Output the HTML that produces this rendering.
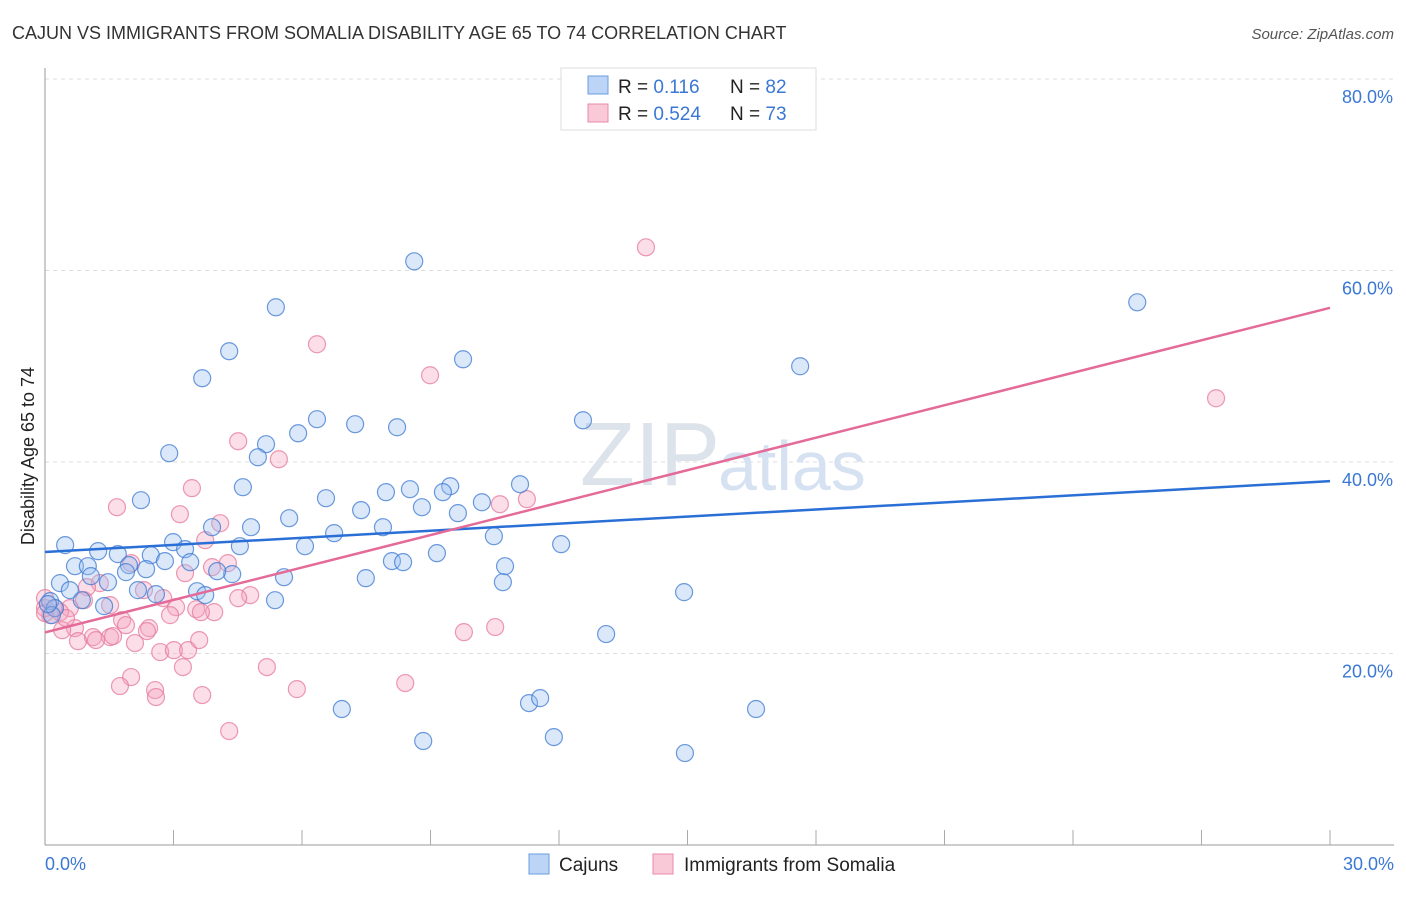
<!DOCTYPE html>
<html><head><meta charset="utf-8"><style>
body{margin:0;background:#fff;font-family:"Liberation Sans",sans-serif;}
svg text{font-family:"Liberation Sans",sans-serif;}
</style></head><body>
<svg width="1406" height="892" viewBox="0 0 1406 892">
<text x="12" y="39" font-size="18" fill="#333">CAJUN VS IMMIGRANTS FROM SOMALIA DISABILITY AGE 65 TO 74 CORRELATION CHART</text>
<text x="1394" y="39" font-size="15" fill="#555" font-style="italic" text-anchor="end">Source: ZipAtlas.com</text>
<g id="grid"></g>
<text x="720" y="485" font-size="90" fill="#dde3ea" text-anchor="end" font-family="Liberation Serif">ZIP</text>
<text x="718" y="490" font-size="70" fill="#d6e2f2">atlas</text>
<line x1="45" y1="68" x2="45" y2="845" stroke="#999"/>
<line x1="45" y1="845" x2="1394" y2="845" stroke="#999"/>
<g id="xticks"></g>
<text x="45" y="870" font-size="18" fill="#3a78d4">0.0%</text>
<text x="1394" y="870" font-size="18" fill="#3a78d4" text-anchor="end">30.0%</text>
<text transform="translate(34,456) rotate(-90)" font-size="18" fill="#222" text-anchor="middle">Disability Age 65 to 74</text>
<g id="pts"></g>
<g id="trend"></g>
<g>
<rect x="561" y="68" width="255" height="62" fill="#fff" stroke="#ddd"/>
<rect x="588" y="76" width="20" height="18" fill="#bcd4f5" stroke="#6a9de0"/>
<rect x="588" y="104" width="20" height="18" fill="#f9c9d8" stroke="#e88aa8"/>
<text x="618" y="93" font-size="19" fill="#222">R = <tspan fill="#3a78d4">0.116</tspan></text>
<text x="730" y="93" font-size="19" fill="#222">N = <tspan fill="#3a78d4">82</tspan></text>
<text x="618" y="120" font-size="19" fill="#222">R = <tspan fill="#3a78d4">0.524</tspan></text>
<text x="730" y="120" font-size="19" fill="#222">N = <tspan fill="#3a78d4">73</tspan></text>
</g>
<g>
<rect x="529" y="854" width="20" height="20" fill="#bcd4f5" stroke="#6a9de0"/>
<text x="559" y="871" font-size="19" fill="#222">Cajuns</text>
<rect x="653" y="854" width="20" height="20" fill="#f9c9d8" stroke="#e88aa8"/>
<text x="684" y="871" font-size="19" fill="#222">Immigrants from Somalia</text>
</g>
</svg>
<script>
const yTicks=[20,40,60,80];
const blueX=[8.62,5.39,25.5,4.3,9.76,3.67,17.63,6.35,7.24,8.22,5.91,12.56,5.16,4.97,2.9,4.62,2.24,6.56,7.96,8.52,9.46,9.29,11.09,10.2,7.38,8.8,9.64,5.7,3.9,4.81,7.89,6.75,10.48,0.47,4.55,6.07,2.99,3.27,12.05,1.24,1.7,2.47,9.15,8.1,8.36,2.8,3.39,10.74,1.96,0.7,1.0,2.36,1.89,1.07,7.49,5.58,4.37,4.02,0.35,10.69,0.58,1.47,3.55,2.17,2.59,3.74,14.92,0.86,1.38,0.12,0.23,5.37,0.16,13.1,6.93,11.3,11.56,16.6,8.83,11.88,14.94,0.07];
const blueY=[60.96,56.16,56.68,51.57,50.73,48.75,50.0,44.47,43.95,43.63,43.0,44.36,41.86,40.5,40.92,37.37,36.01,36.22,36.85,37.16,37.47,36.85,37.68,35.8,34.97,35.28,34.66,34.13,33.19,33.19,33.19,32.57,32.25,31.32,31.21,31.21,31.63,30.9,31.42,30.69,30.38,30.27,30.48,29.65,29.54,29.65,29.54,29.12,29.23,29.12,29.12,28.81,28.5,28.08,27.87,27.97,28.29,28.6,27.35,27.45,26.62,27.45,26.51,26.62,26.2,26.1,26.41,25.57,24.95,25.47,24.74,25.57,24.01,22.03,14.2,14.82,15.34,14.2,10.86,11.27,9.6,25.16];
const pinkX=[14.03,6.35,8.99,27.34,4.51,5.46,3.43,1.68,3.15,10.62,11.25,4.09,3.74,3.9,3.27,4.27,2.01,1.28,0.98,2.31,2.76,4.79,4.51,3.53,3.95,3.06,3.64,2.92,1.8,1.52,0.58,0.35,0.12,0.23,0,0.7,0.4,1.12,1.52,1.59,2.1,2.43,2.38,0.77,1.19,2.69,3.01,3.34,3.6,3.22,5.18,2.01,1.75,2.57,2.59,5.88,3.67,8.41,9.78,10.51,4.3,1.89,0.91,0,0.49,0];
const pinkY=[62.42,52.3,49.06,46.66,42.17,40.29,37.27,35.28,34.55,35.59,36.12,33.61,31.84,29.02,28.39,29.44,29.44,27.35,26.93,26.62,25.78,26.1,25.78,24.63,24.32,24.84,24.32,24.01,23.49,25.05,24.74,24.32,24.01,24.74,25.78,22.65,22.44,21.71,21.71,21.82,21.09,22.65,22.34,21.29,21.4,20.15,20.35,20.35,21.4,18.58,18.58,17.54,16.6,16.18,15.45,16.28,15.66,16.91,22.23,22.76,11.9,22.96,25.57,24.74,23.7,24.22];
const blueTrend=[30.6,38.0];
const pinkTrend=[22.2,56.1];
const trendX=[0,30];
const NS='http://www.w3.org/2000/svg';
const sx=v=>45+v*(1285/30);
const sy=v=>845-v*(766/80);
function mk(t,a,p){const e=document.createElementNS(NS,t);for(const k in a)e.setAttribute(k,a[k]);p.appendChild(e);return e;}
const grid=document.getElementById('grid');
yTicks.forEach(t=>{
 const l=mk('line',{x1:45,x2:1394,y1:sy(t),y2:sy(t),stroke:'#ddd','stroke-dasharray':'4,4'},grid);
 
 
 const tx=mk('text',{x:1393,y:sy(t)+24,'font-size':18,fill:'#3a78d4','text-anchor':'end'},grid);
 tx.textContent=t.toFixed(1)+'%';
 
 
});
const xt=document.getElementById('xticks');
for(let i=1;i<=10;i++){
 const l=mk('line',{x1:sx(i*3),x2:sx(i*3),y1:830,y2:845,stroke:'#aaa'},xt);
 
 
}
const pts=document.getElementById('pts');
pinkX.forEach((x,i)=>{
 const c=mk('circle',{cx:sx(x),cy:sy(pinkY[i]),r:8.5,fill:'rgba(244,160,188,0.35)',stroke:'rgba(230,120,155,0.75)','stroke-width':1.2},pts);
 
 
});
blueX.forEach((x,i)=>{
 const c=mk('circle',{cx:sx(x),cy:sy(blueY[i]),r:8.5,fill:'rgba(150,190,240,0.35)',stroke:'rgba(60,120,210,0.75)','stroke-width':1.2},pts);
 
 
});
const tr=document.getElementById('trend');
const b=mk('line',{x1:sx(trendX[0]),y1:sy(blueTrend[0]),x2:sx(trendX[1]),y2:sy(blueTrend[1]),stroke:'#2a6fd6','stroke-width':2.5},tr);


const p=mk('line',{x1:sx(trendX[0]),y1:sy(pinkTrend[0]),x2:sx(trendX[1]),y2:sy(pinkTrend[1]),stroke:'#e46a98','stroke-width':2.5},tr);


</script>
</body></html>
